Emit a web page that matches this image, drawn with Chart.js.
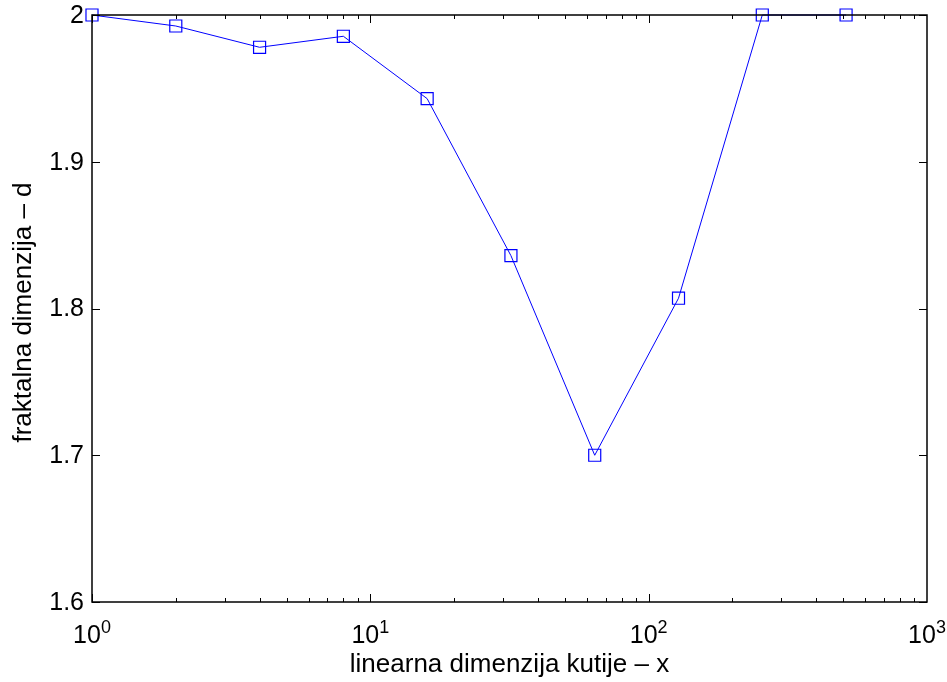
<!DOCTYPE html>
<html>
<head>
<meta charset="utf-8">
<script src="https://cdn.jsdelivr.net/npm/chart.js@4.4.0/dist/chart.umd.min.js"></script>
<style>
  html, body { margin: 0; padding: 0; background: #fff; }
  #wrap { width: 947px; height: 682px; }
</style>
</head>
<body>
<div id="wrap"><canvas id="chart" width="947" height="682"></canvas></div>
<script>
// box size (linear dimension) and estimated fractal dimension
var boxSizes = [1, 2, 4, 8, 16, 32, 64, 128, 256, 512];
var fracDim = [2.0, 1.9925, 1.978, 1.9855, 1.943, 1.836, 1.700, 1.807, 2.0, 2.0];
var yTicks = [1.6, 1.7, 1.8, 1.9, 2];
var xDecades = [0, 1, 2, 3];
var xTitle = "linearna dimenzija kutije \u2013 x";
var yTitle = "fraktalna dimenzija \u2013 d";

var FONT = "Liberation Sans, Arial, Helvetica, sans-serif";

// draws the matlab-ish frame: inward ticks on all sides, labels, titles
var axesPlugin = {
    id: "axesPlugin",
    afterDraw: function (chart) {
        var ctx = chart.ctx;
        var a = chart.chartArea;
        var xs = chart.scales.x;
        var ys = chart.scales.y;
        ctx.save();
        ctx.strokeStyle = "#000";
        ctx.lineWidth = 1;

        // x ticks (major + minor)
        for (var d = 0; d < 3; d++) {
            for (var m = 1; m <= 9; m++) {
                var v = m * Math.pow(10, d);
                var px = Math.round(xs.getPixelForValue(v)) + 0.5;
                var len = m === 1 ? 8 : 4;
                ctx.beginPath();
                ctx.moveTo(px, a.bottom);
                ctx.lineTo(px, a.bottom - len);
                ctx.moveTo(px, a.top);
                ctx.lineTo(px, a.top + len);
                ctx.stroke();
            }
        }
        // y ticks
        yTicks.forEach(function (t) {
            var py = Math.round(ys.getPixelForValue(t)) + 0.5;
            ctx.beginPath();
            ctx.moveTo(a.left, py);
            ctx.lineTo(a.left + 8, py);
            ctx.moveTo(a.right, py);
            ctx.lineTo(a.right - 8, py);
            ctx.stroke();
        });

        // frame
        ctx.lineWidth = 1.5;
        ctx.strokeRect(a.left, a.top, a.right - a.left, a.bottom - a.top);

        ctx.fillStyle = "#000";
        // y labels
        ctx.font = "25px " + FONT;
        ctx.textAlign = "right";
        ctx.textBaseline = "middle";
        yTicks.forEach(function (t) {
            var py = ys.getPixelForValue(t);
            ctx.fillText(t === 2 ? "2" : t.toFixed(1), a.left - 8, py + 1);
        });

        // x labels 10^n
        ctx.textBaseline = "alphabetic";
        ctx.textAlign = "left";
        xDecades.forEach(function (e) {
            var px = xs.getPixelForValue(Math.pow(10, e));
            ctx.font = "25px " + FONT;
            var wBase = ctx.measureText("10").width;
            ctx.font = "18px " + FONT;
            var wExp = ctx.measureText(String(e)).width;
            var x0 = px - (wBase + wExp) / 2;
            ctx.font = "25px " + FONT;
            ctx.fillText("10", x0, a.bottom + 41);
            ctx.font = "18px " + FONT;
            ctx.fillText(String(e), x0 + wBase, a.bottom + 31);
        });

        // titles
        ctx.font = "26px " + FONT;
        ctx.textAlign = "center";
        ctx.fillText(xTitle, (a.left + a.right) / 2, 672);
        ctx.save();
        ctx.translate(31, (a.top + a.bottom) / 2 + 4);
        ctx.rotate(-Math.PI / 2);
        ctx.fillText(yTitle, 0, 0);
        ctx.restore();

        ctx.restore();
    }
};

var points = boxSizes.map(function (b, i) {
    return { x: b, y: fracDim[i] };
});

new Chart(document.getElementById("chart"), {
    type: "line",
    data: {
        datasets: [
            {
                data: points,
                borderColor: "#0000ff",
                borderWidth: 1,
                pointStyle: "rect",
                pointRadius: 8.5,
                pointBorderWidth: 1.2,
                pointBackgroundColor: "rgba(0,0,0,0)",
                pointBorderColor: "#0000ff",
                tension: 0,
                clip: false,
            },
        ],
    },
    options: {
        responsive: false,
        animation: false,
        layout: { padding: { left: 92, top: 15, right: 20, bottom: 80 } },
        plugins: { legend: { display: false }, tooltip: { enabled: false } },
        scales: {
            x: {
                type: "logarithmic",
                display: false,
                min: 1,
                max: 1000,
            },
            y: {
                display: false,
                min: 1.6,
                max: 2,
            },
        },
    },
    plugins: [axesPlugin],
});
</script>
</body>
</html>
